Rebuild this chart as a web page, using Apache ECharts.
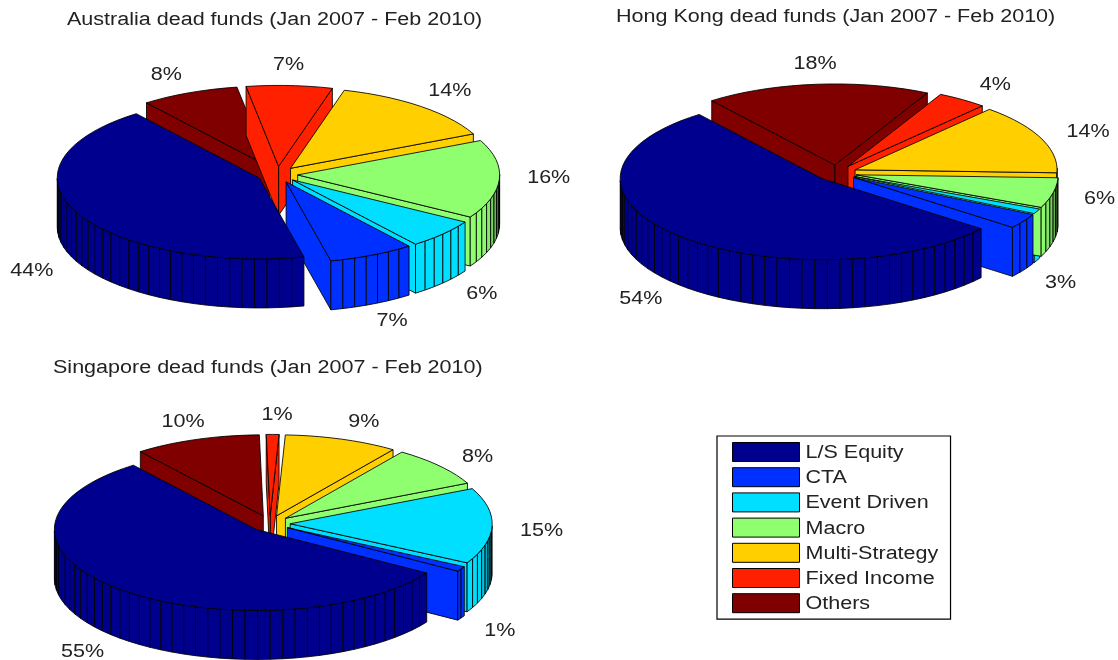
<!DOCTYPE html>
<html>
<head>
<meta charset="utf-8">
<style>html,body{margin:0;padding:0;background:#fff}#chart{width:1118px;height:660px}</style>
<script src="https://cdn.jsdelivr.net/npm/echarts@6/dist/echarts.min.js"></script>
</head>
<body>
<div id="chart"></div>
<script>
// Strategy mix of dead hedge funds, one exploded 3-D pie per market.
const categories = ['L/S Equity', 'CTA', 'Event Driven', 'Macro', 'Multi-Strategy', 'Fixed Income', 'Others'];
const palette = ['#00008f', '#0030ff', '#00dfff', '#8fff70', '#ffcf00', '#ff2000', '#800000'];

const australiaShares = [44, 7, 6, 16, 14, 7, 8];
const hongKongShares = [54, 3, 1, 6, 14, 4, 18];
const singaporeShares = [55, 1, 15, 8, 9, 1, 10];

const australiaTitle = 'Australia dead funds (Jan 2007 - Feb 2010)';
const hongKongTitle = 'Hong Kong dead funds (Jan 2007 - Feb 2010)';
const singaporeTitle = 'Singapore dead funds (Jan 2007 - Feb 2010)';

// All text is set wide, in the proportions of the stretched figure.
const TEXT_STRETCH = 1.196;
const FONT = '"Liberation Sans", Arial, sans-serif';

// Projection of each pie: centre, ellipse radii, wall height, explode distance.
const RX = 202, RY = 81, DEPTH = 49, EXPLODE = 0.1, START_DEG = 127.5;
const pies = [
  { shares: australiaShares, cx: 277.5, cy: 174.5, hidden: [], buried: [],
    nudge: [[-8, 29], [3, 2], [9, 13], [9, -5], [3, 1], [-3, 1], [-7, 2]] },
  { shares: hongKongShares, cx: 836.5, cy: 173, hidden: [2], buried: [2],
    nudge: [[-9, 14], [3, 24], [0, 0], [7, -10], [10, 2], [10, 3], [2, 1]] },
  { shares: singaporeShares, cx: 270, cy: 523.5, hidden: [], buried: [],
    nudge: [[-10, 11], [4, 26], [9, 3.5], [7, 4.5], [9, 2.5], [4, 1.5], [0, 2.5]] }
];

const rad = d => d * Math.PI / 180;

function shade(hex, factor) {
  const n = parseInt(hex.slice(1), 16);
  const c = [n >> 16 & 255, n >> 8 & 255, n & 255].map(v => Math.round(v * factor));
  return 'rgb(' + c.join(',') + ')';
}

// Walls darken only as they turn edge-on at the right of the pie.
function wallFactor(deg) {
  let a = ((deg % 360) + 360) % 360;
  if (a > 180) a -= 360;
  if (a < -25 || a > 60) return 1;
  return Math.max(0.2, 1 - Math.pow((a + 25) / 25, 1.6) * 0.78);
}

function sliceShapes(pie, i, part) {
  const total = pie.shares.reduce((s, v) => s + v, 0);
  const before = pie.shares.slice(0, i).reduce((s, v) => s + v, 0);
  const frac = pie.shares[i] / total;
  const a0 = START_DEG + before / total * 360;
  const a1 = a0 + frac * 360;
  const mid = (a0 + a1) / 2;
  const ax = pie.cx + EXPLODE * RX * Math.cos(rad(mid));
  const ay = pie.cy - EXPLODE * RY * Math.sin(rad(mid));
  const facets = Math.max(1, Math.ceil(100 * frac));
  const arc = [];
  const angles = [];
  for (let k = 0; k <= facets; k++) {
    const a = a0 + (a1 - a0) * k / facets;
    angles.push(a);
    arc.push([ax + RX * Math.cos(rad(a)), ay - RY * Math.sin(rad(a))]);
  }
  const color = palette[i];
  const edge = { stroke: '#000', lineWidth: 0.85, lineJoin: 'round' };
  const poly = (points, fill) => ({
    type: 'polygon', shape: { points }, style: Object.assign({ fill }, edge)
  });
  const down = p => [p[0], p[1] + DEPTH];
  const apex = [ax, ay];
  const children = [];

  if (part !== 'top') {
    // Radial cut faces that turn towards the viewer.
    if (Math.sin(rad(a0 - 90)) < 0) {
      children.push(poly([apex, arc[0], down(arc[0]), down(apex)], color));
    }
    if (Math.sin(rad(a1 + 90)) < 0) {
      const last = arc[arc.length - 1];
      children.push(poly([apex, last, down(last), down(apex)], color));
    }
    // Outer wall, one quad per facet on the front half.
    for (let k = 0; k < facets; k++) {
      const m = (angles[k] + angles[k + 1]) / 2;
      if (Math.sin(rad(m)) >= 0) continue;
      children.push(poly([arc[k], arc[k + 1], down(arc[k + 1]), down(arc[k])],
        shade(color, wallFactor(m))));
    }
  }
  if (part !== 'body') {
    // Top face.
    children.push(poly([apex].concat(arc), color));

    // Percentage label outside the rim.
    if (pie.hidden.indexOf(i) < 0) {
      const s = Math.sin(rad(mid));
      const lx = pie.cx + 1.3 * RX * Math.cos(rad(mid)) + pie.nudge[i][0];
      const ly = pie.cy - 1.36 * RY * s + Math.max(0, -s) * DEPTH + pie.nudge[i][1];
      children.push({
        type: 'text', z2: 100,
        scaleX: TEXT_STRETCH, originX: lx, originY: ly,
        style: {
          x: lx, y: ly, text: pie.shares[i] + '%', fill: '#222',
          font: '18px ' + FONT, align: 'center', verticalAlign: 'middle'
        }
      });
    }
  }
  return children;
}

function sliceSeries(pie, p, i, part) {
  return {
    type: 'custom',
    name: categories[i],
    coordinateSystem: 'none',
    silent: true,
    z: 2 + p,
    itemStyle: { color: palette[i] },
    data: [pie.shares[i]],
    renderItem: () => ({ type: 'group', children: sliceShapes(pie, i, part) })
  };
}

// One series per slice so the legend stays tied to the categories;
// slices are stacked from the back of the pie to the front.
const series = [];
pies.forEach((pie, p) => {
  for (let i = categories.length - 1; i >= 0; i--) {
    if (pie.buried.indexOf(i - 1) >= 0) series.push(sliceSeries(pie, p, i - 1, 'body'));
    const buried = pie.buried.indexOf(i) >= 0;
    series.push(sliceSeries(pie, p, i, buried ? 'top' : 'all'));
  }
});

const titleFont = { fontFamily: FONT, fontSize: 18, fontWeight: 'normal', color: '#222' };

const chart = echarts.init(document.getElementById('chart'), null, { renderer: 'canvas' });
chart.setOption({
  animation: false,
  backgroundColor: '#fff',
  title: [
    { text: australiaTitle, left: 67, top: 11, padding: 0, textStyle: titleFont },
    { text: hongKongTitle, left: 616, top: 8, padding: 0, textStyle: titleFont },
    { text: singaporeTitle, left: 53, top: 359, padding: 0, textStyle: titleFont }
  ],
  legend: {
    orient: 'vertical',
    left: 717,
    top: 436,
    data: categories,
    selectedMode: false,
    icon: 'rect',
    itemWidth: 67,
    itemHeight: 19,
    itemGap: 5.2,
    padding: [6, 34, 6, 15],
    backgroundColor: '#fff',
    borderColor: '#000',
    borderWidth: 1.2,
    itemStyle: { borderColor: '#000', borderWidth: 1 },
    textStyle: { fontFamily: FONT, fontSize: 18, color: '#222', padding: [0, 0, 0, 1] }
  },
  series
});

// Titles and legend entries have no width option, so widen their text spans directly.
const titles = [australiaTitle, hongKongTitle, singaporeTitle];
const zr = chart.getZr();
zr.storage.getDisplayList(true).forEach(el => {
  const text = el.style && el.style.text;
  if (titles.indexOf(text) < 0 && categories.indexOf(text) < 0) return;
  el.originX = el.style.x || 0;
  el.scaleX = TEXT_STRETCH;
  // Legend text sits a little lower than its swatch centre.
  if (categories.indexOf(text) >= 0) el.y = 1;
  el.markRedraw();
});
zr.refresh();
</script>
</body>
</html>
